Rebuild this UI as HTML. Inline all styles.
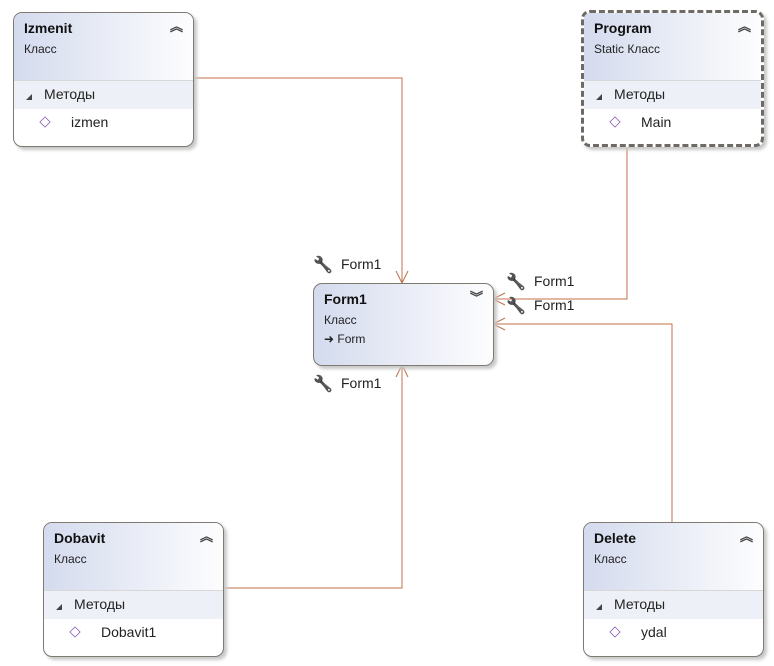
<!DOCTYPE html>
<html><head><meta charset="utf-8"><style>
body{margin:0;width:774px;height:666px;background:#fff;position:relative;font-family:"Segoe UI","Liberation Sans","DejaVu Sans",sans-serif;overflow:hidden}
.box{position:absolute;width:179px;height:133px;border:1px solid #7f7a72;border-radius:9px;box-shadow:3px 3px 3px #c8c8c8;background:#fff;overflow:hidden}
.hd{position:absolute;left:0;top:0;right:0;height:67px;background:linear-gradient(90deg,#d4dbee,#fdfdfe);border-bottom:1px solid #d8d8d8}
.t{position:absolute;left:10px;top:7px;font-weight:bold;font-size:14px;color:#111}
.s{position:absolute;left:10px;top:29px;font-size:12px;color:#222}
.sec{position:absolute;left:0;right:0;top:68px;height:28px;background:#eef0f8;font-size:14px;color:#222}
.sec span{position:absolute;left:30px;top:5px}
.sec i{position:absolute;left:12px;top:13px;width:0;height:0;border-left:6px solid transparent;border-bottom:6px solid #444}
.m{position:absolute;left:57px;top:101px;font-size:14px;color:#222}
.ic{position:absolute;left:26px;top:104px;width:8px;height:8px;border:1px solid #8a5fb0;transform:rotate(45deg) scale(.8)}
.col{position:absolute;right:10px;top:3px;font-size:13px;font-weight:bold;color:#444}
.lbl{position:absolute;font-size:14px;color:#222}
.w{position:absolute;font-size:16px;color:#333;filter:grayscale(1) brightness(.5)}
</style></head><body>
<svg width="774" height="666" style="position:absolute;left:0;top:0" fill="none" stroke="#c0714a" stroke-width="1">
<polyline points="192,78 402,78 402,283"/><polyline points="396,271 402,283 408,271"/>
<polyline points="627,145 627,299 493,299"/><polyline points="505,293 493,299 505,305"/>
<polyline points="672,522 672,324 493,324"/><polyline points="505,318 493,324 505,330"/>
<polyline points="222,588 402,588 402,365"/><polyline points="396,377 402,365 408,377"/>
</svg>
<div class="box" style="left:13px;top:12px"><div class="hd"></div><div class="t">Izmenit</div><div class="s">Класс</div><div class="col">︽</div><div class="sec"><i></i><span>Методы</span></div><div class="ic"></div><div class="m">izmen</div></div>
<div class="box" style="left:581px;top:10px;border:3px dashed #6e6a64;width:177px;height:131px"><div class="hd"></div><div class="t">Program</div><div class="s">Static Класс</div><div class="col">︽</div><div class="sec"><i></i><span>Методы</span></div><div class="ic"></div><div class="m">Main</div></div>
<div class="box" style="left:43px;top:522px"><div class="hd"></div><div class="t">Dobavit</div><div class="s">Класс</div><div class="col">︽</div><div class="sec"><i></i><span>Методы</span></div><div class="ic"></div><div class="m">Dobavit1</div></div>
<div class="box" style="left:583px;top:522px"><div class="hd"></div><div class="t">Delete</div><div class="s">Класс</div><div class="col">︽</div><div class="sec"><i></i><span>Методы</span></div><div class="ic"></div><div class="m">ydal</div></div>
<div class="box" style="left:313px;top:283px;width:179px;height:81px;background:linear-gradient(90deg,#d4dbee,#fdfdfe)"><div class="t">Form1</div><div class="s">Класс</div><div class="s" style="top:48px">➜ Form</div><div class="col">︾</div></div>
<div class="w" style="left:313px;top:255px">🔧</div><div class="lbl" style="left:341px;top:256px">Form1</div>
<div class="w" style="left:313px;top:374px">🔧</div><div class="lbl" style="left:341px;top:375px">Form1</div>
<div class="w" style="left:506px;top:272px">🔧</div><div class="lbl" style="left:534px;top:273px">Form1</div>
<div class="w" style="left:506px;top:296px">🔧</div><div class="lbl" style="left:534px;top:297px">Form1</div>
</body></html>
